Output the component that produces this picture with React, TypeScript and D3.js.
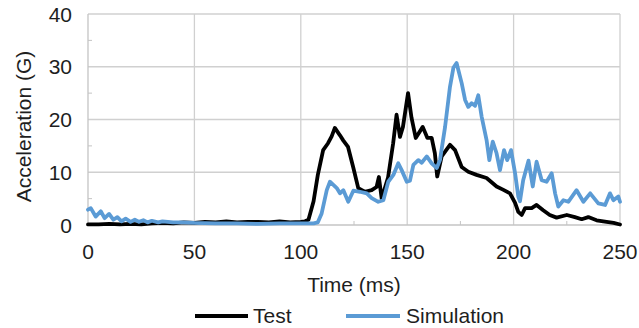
import React from "react";
import * as d3 from "d3";

const testTime = [0, 5, 10, 15, 20, 25, 30, 35, 40, 45, 50, 55, 60, 65, 70, 75, 80, 85, 90, 95, 100, 102, 103.6, 106, 108, 110.5, 112.8, 114.5, 116, 118.4, 120, 122.2, 124.6, 127, 130, 133.3, 135.6, 136.7, 138, 141, 143.4, 145, 146.6, 148, 150.4, 152, 154, 157.3, 159.5, 161.5, 163, 164.1, 166.2, 170.1, 172.5, 175.6, 178.7, 182.6, 187.3, 192, 195, 198.3, 200.7, 202.2, 203.8, 205.4, 208.5, 210.8, 213.9, 217, 220.2, 225, 228.8, 232, 235.1, 239, 243.7, 247, 250];
const testAccel = [0.1, 0.1, 0.2, 0.1, 0.2, 0.1, 0.3, 0.4, 0.3, 0.5, 0.4, 0.6, 0.5, 0.7, 0.5, 0.6, 0.6, 0.5, 0.7, 0.5, 0.6, 0.7, 1.0, 4.5, 9.5, 14.2, 15.5, 16.8, 18.4, 17.0, 16.0, 14.8, 11.0, 7.0, 6.3, 6.6, 7.2, 9.1, 5.0, 9.0, 15.5, 20.9, 16.7, 18.6, 25.0, 20.4, 16.5, 18.6, 16.5, 16.5, 13.6, 9.2, 13.0, 15.2, 14.2, 11.0, 10.1, 9.5, 8.9, 7.3, 6.7, 6.0, 4.2, 2.5, 1.9, 3.2, 3.2, 3.8, 2.8, 1.9, 1.4, 1.9, 1.5, 1.1, 1.5, 0.9, 0.6, 0.4, 0.1];

const simTime = [0, 1.3, 3.6, 6, 7.8, 9.9, 11.9, 13.8, 15.7, 17.7, 20, 22, 24, 26, 28, 30, 33, 35, 40, 45, 50, 60, 70, 80, 90, 100, 106, 108, 109.8, 112.2, 113.7, 115.3, 116.9, 118.4, 120, 122.3, 124.7, 127.8, 131, 133.3, 136.4, 138.8, 141.1, 143.5, 145.8, 147.4, 149.8, 151.3, 152.9, 155.2, 156.8, 159.2, 161.5, 163.9, 165.4, 167.8, 170.1, 171.7, 173.2, 175.6, 177.2, 178.7, 180.3, 181.9, 183.4, 185, 187.3, 188.6, 190.2, 192, 193.6, 195.5, 197, 198.8, 200.7, 202.2, 203, 204.5, 207, 209, 210.8, 213.2, 215.5, 217.9, 219.5, 221, 223.4, 225.7, 229.6, 232.8, 236, 239.8, 243, 245.3, 246.9, 249.2, 250];
const simAccel = [2.9, 3.2, 1.6, 2.6, 1.3, 2.1, 1.0, 1.5, 0.7, 1.2, 0.6, 1.0, 0.6, 0.9, 0.5, 0.8, 0.5, 0.7, 0.5, 0.5, 0.4, 0.3, 0.3, 0.2, 0.3, 0.3, 0.3, 0.5, 2.2, 6.6, 8.2, 7.6, 7.0, 6.0, 6.6, 4.4, 6.5, 6.3, 6.0, 5.1, 4.4, 4.7, 8.2, 9.5, 11.7, 10.4, 8.2, 8.4, 11.4, 12.3, 11.8, 13.0, 11.7, 10.8, 12.3, 18.6, 26.2, 29.8, 30.7, 26.9, 23.7, 22.4, 23.1, 22.6, 24.6, 20.5, 16.1, 12.3, 15.8, 13.6, 10.4, 14.2, 12.3, 14.2, 9.8, 5.4, 4.5, 8.5, 12.2, 7.3, 12.0, 8.5, 8.2, 9.8, 6.0, 3.5, 4.7, 4.4, 6.6, 4.4, 6.0, 4.1, 3.8, 6.0, 4.7, 5.4, 4.4];

const xTicks = [0, 50, 100, 150, 200, 250];
const yTicks = [0, 10, 20, 30, 40];
const xMinor = [25, 75, 125, 175, 225];
const yMinor = [5, 15, 25, 35];
const seriesNames = ["Test", "Simulation"];
const seriesColors = ["#000000", "#5b9bd5"];

const W = 639;
const H = 328;
const left = 88;
const right = 620;
const top = 14;
const bottom = 225;
const FONT = "'Liberation Sans', Arial, sans-serif";
const TEXT = "#1e1e1e";

export default function App() {
  const x = d3.scaleLinear().domain([0, 250]).range([left, right]);
  const y = d3.scaleLinear().domain([0, 40]).range([bottom, top]);
  const line = d3
    .line<[number, number]>()
    .x((d) => x(d[0]))
    .y((d) => y(d[1]));
  const testPts = testTime.map((t, i) => [t, testAccel[i]] as [number, number]);
  const simPts = simTime.map((t, i) => [t, simAccel[i]] as [number, number]);

  return (
    <svg
      width={W}
      height={H}
      style={{ position: "absolute", left: 0, top: 0, background: "#fff" }}
    >
      <rect x={0} y={0} width={W} height={H} fill="#fff" />
      {/* gridlines */}
      {yTicks.slice(1).map((v) => (
        <line key={"gy" + v} x1={left} x2={right} y1={y(v)} y2={y(v)} stroke="#d0d0d0" strokeWidth={1.3} />
      ))}
      {xTicks.slice(1).map((v) => (
        <line key={"gx" + v} x1={x(v)} x2={x(v)} y1={top} y2={bottom} stroke="#d0d0d0" strokeWidth={1.3} />
      ))}
      {/* axes */}
      <line x1={left} x2={left} y1={top} y2={bottom} stroke="#c4c4c4" strokeWidth={1.3} />
      <line x1={left} x2={right} y1={bottom} y2={bottom} stroke="#c4c4c4" strokeWidth={1.3} />
      {yMinor.map((v) => (
        <line key={"my" + v} x1={left} x2={left + 4} y1={y(v)} y2={y(v)} stroke="#c4c4c4" strokeWidth={1} />
      ))}
      {xMinor.map((v) => (
        <line key={"mx" + v} x1={x(v)} x2={x(v)} y1={bottom} y2={bottom - 4} stroke="#c4c4c4" strokeWidth={1} />
      ))}
      {/* series */}
      <path d={line(testPts) || ""} fill="none" stroke={seriesColors[0]} strokeWidth={3.8} strokeLinejoin="round" strokeLinecap="round" />
      <path d={line(simPts) || ""} fill="none" stroke={seriesColors[1]} strokeWidth={3.8} strokeLinejoin="round" strokeLinecap="round" />
      {/* tick labels */}
      {yTicks.map((v) => (
        <text key={"ty" + v} x={72} y={y(v)} dy="0.36em" textAnchor="end" fontFamily={FONT} fontSize={21} fill={TEXT}>
          {v}
        </text>
      ))}
      {xTicks.map((v) => (
        <text key={"tx" + v} x={x(v)} y={259} textAnchor="middle" fontFamily={FONT} fontSize={21} fill={TEXT}>
          {v}
        </text>
      ))}
      {/* axis titles */}
      <text x={(left + right) / 2} y={292} textAnchor="middle" fontFamily={FONT} fontSize={21} fill={TEXT}>
        Time (ms)
      </text>
      <text
        transform={`translate(31, ${(top + bottom) / 2 + 7}) rotate(-90)`}
        textAnchor="middle"
        fontFamily={FONT}
        fontSize={21}
        fill={TEXT}
      >
        Acceleration (G)
      </text>
      {/* legend */}
      <line x1={195} x2={248} y1={316} y2={316} stroke={seriesColors[0]} strokeWidth={4} />
      <text x={253} y={323} fontFamily={FONT} fontSize={21} fill={TEXT}>
        {seriesNames[0]}
      </text>
      <line x1={346} x2={400} y1={316} y2={316} stroke={seriesColors[1]} strokeWidth={4} />
      <text x={406} y={323} fontFamily={FONT} fontSize={21} fill={TEXT}>
        {seriesNames[1]}
      </text>
    </svg>
  );
}
